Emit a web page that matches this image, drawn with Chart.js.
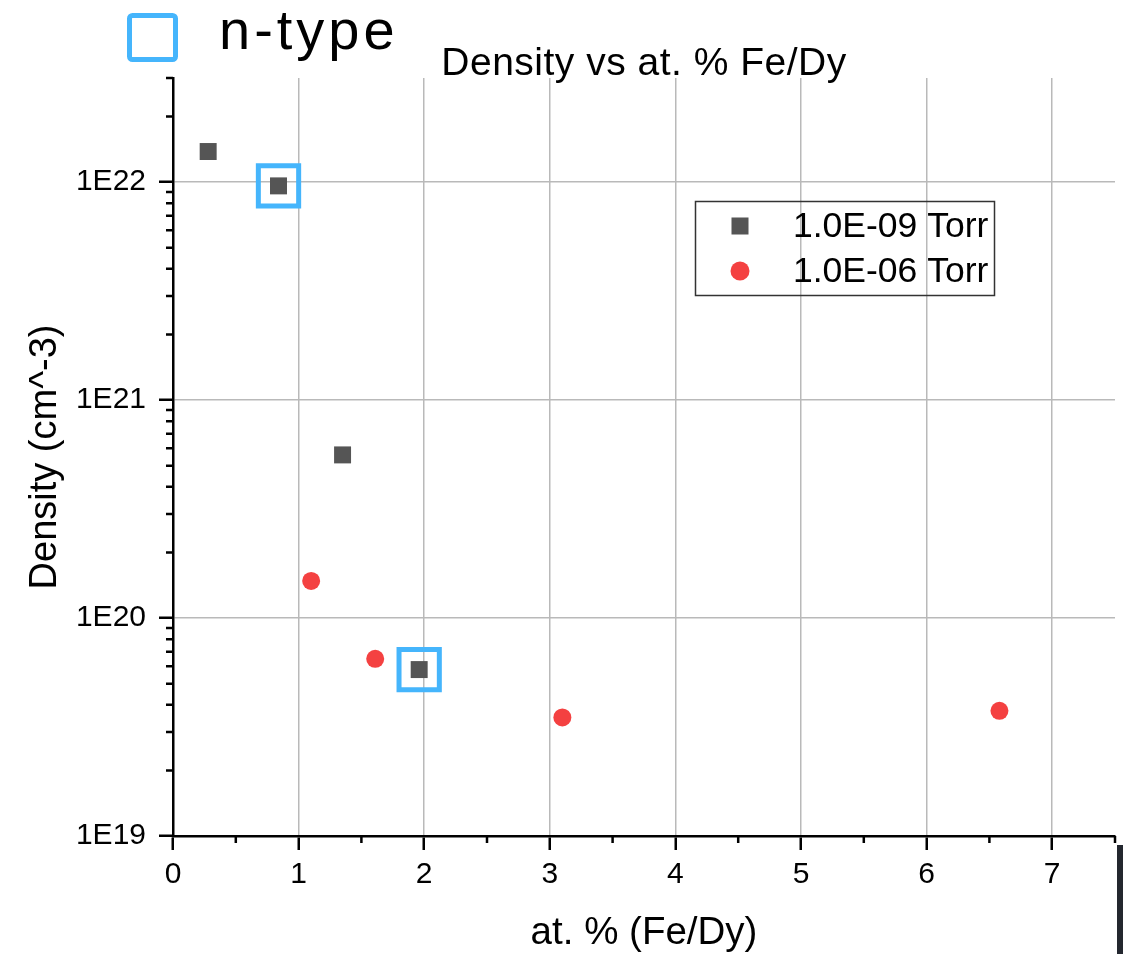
<!DOCTYPE html>
<html>
<head>
<meta charset="utf-8">
<script src="https://cdn.jsdelivr.net/npm/chart.js@4"></script>
<style>
  body { margin: 0; background: #fff; }
  #wrap { position: relative; width: 1123px; height: 954px; }
  #edge { position: absolute; left: 1117px; top: 845px; width: 6px; height: 109px; background: #23272f; }
</style>
</head>
<body>
<div id="wrap">
  <canvas id="density-chart"></canvas>
  <div id="edge"></div>
</div>
<script>
// at. % Fe/Dy and carrier density for the two base pressures
const at_uhv = [0.28, 0.84, 1.35, 1.96];
const dens_uhv = [1.38e22, 9.6e21, 5.6e20, 5.8e19];
const at_hv = [1.10, 1.61, 3.10, 6.58];
const dens_hv = [1.48e20, 6.5e19, 3.5e19, 3.75e19];
// which 1.0E-09 Torr samples came out n-type
const ntype_idx = [1, 3];

const series_names = ['1.0E-09 Torr', '1.0E-06 Torr', 'n-type'];
const x_ticks = [0, 1, 2, 3, 4, 5, 6, 7];
const y_ticks = [1e19, 1e20, 1e21, 1e22];

const FONT = '"Liberation Sans", Arial, sans-serif';
const GREY = '#555555';
const RED = '#f44141';
const BLUE = '#45b5fc';

function pts(xs, ys) {
    return xs.map((x, i) => ({x: x, y: ys[i]}));
}

let ctx = document.getElementById('density-chart');

// minor ticks, title, legends
const extras = {
    id: 'extras',
    afterDraw(chart) {
        const c = chart.ctx;
        const xs = chart.scales.x;
        const ys = chart.scales.y;
        const area = chart.chartArea;
        c.save();
        c.strokeStyle = '#000';
        c.lineWidth = 2.5;
        c.beginPath();
        for (let d = 19; d <= 22; d++) {
            for (let m = 2; m <= 9; m++) {
                let v = m * Math.pow(10, d);
                if (v > ys.max * 1.0001) continue;
                let py = ys.getPixelForValue(v);
                c.moveTo(area.left - 7, py);
                c.lineTo(area.left, py);
            }
        }
        for (let v = 0.5; v <= xs.max + 0.001; v += 1) {
            let px = xs.getPixelForValue(v);
            c.moveTo(px, area.bottom);
            c.lineTo(px, area.bottom + 7);
        }
        c.stroke();

        c.fillStyle = '#000';
        c.font = '39px ' + FONT;
        c.letterSpacing = '0.5px';
        c.textAlign = 'center';
        c.textBaseline = 'alphabetic';
        c.fillText('Density vs at. % Fe/Dy', (area.left + area.right) / 2, 75);
        c.letterSpacing = '0px';

        // series legend
        c.strokeStyle = '#333';
        c.lineWidth = 1.5;
        c.strokeRect(695.5, 201.5, 299, 94);
        c.fillStyle = GREY;
        c.fillRect(740 - 8.5, 226 - 8.5, 17, 17);
        c.fillStyle = RED;
        c.beginPath();
        c.arc(740, 271, 9.5, 0, Math.PI * 2);
        c.fill();
        c.fillStyle = '#000';
        c.font = '35.5px ' + FONT;
        c.textAlign = 'left';
        c.textBaseline = 'middle';
        c.fillText(series_names[0], 793, 227);
        c.fillText(series_names[1], 793, 272);

        // n-type key
        c.strokeStyle = BLUE;
        c.lineWidth = 5;
        c.beginPath();
        c.roundRect(129.5, 15.5, 46, 44, 3);
        c.stroke();
        c.fillStyle = '#000';
        c.font = '56px ' + FONT;
        c.letterSpacing = '4px';
        c.textBaseline = 'alphabetic';
        c.fillText(series_names[2], 219, 49);
        c.restore();
    }
};

let data = {
    datasets: [{
        label: series_names[0],
        data: pts(at_uhv, dens_uhv),
        pointStyle: 'rect',
        pointRadius: 12,
        backgroundColor: GREY,
        borderWidth: 0
    },
    {
        label: series_names[1],
        data: pts(at_hv, dens_hv),
        pointStyle: 'circle',
        pointRadius: 9,
        backgroundColor: RED,
        borderWidth: 0
    },
    {
        label: series_names[2],
        data: ntype_idx.map(i => ({x: at_uhv[i], y: dens_uhv[i]})),
        pointStyle: 'rect',
        pointRadius: 28.5,
        backgroundColor: 'rgba(0,0,0,0)',
        borderColor: BLUE,
        borderWidth: 5
    }]
};

let options = {
    responsive: true,
    maintainAspectRatio: false,
    animation: false,
    events: [],
    layout: { autoPadding: false, padding: { top: 78, right: 8, left: 0, bottom: 0 } },
    plugins: {
        legend: { display: false },
        title: { display: false },
        tooltip: { enabled: false }
    },
    scales: {
        x: {
            type: 'linear',
            min: 0,
            max: 7.5,
            afterBuildTicks: s => { s.ticks = x_ticks.map(v => ({value: v})) },
            afterFit: s => { s.height = 118; s.paddingLeft = 0; s.paddingRight = 0 },
            ticks: { color: '#000', font: { family: FONT, size: 30 }, padding: 7 },
            grid: { color: '#b9b9b9', lineWidth: 1.5, tickLength: 14, tickColor: '#000', tickWidth: 2.5 },
            border: { color: '#000', width: 2.5 },
            title: {
                display: true,
                text: 'at. % (Fe/Dy)',
                color: '#000',
                font: { family: FONT, size: 38.5, lineHeight: 1 },
                padding: { top: 0, bottom: 1 }
            }
        },
        y: {
            type: 'logarithmic',
            min: 1e19,
            max: 3e22,
            afterBuildTicks: s => { s.ticks = y_ticks.map(v => ({value: v})) },
            afterFit: s => { s.width = 173; s.paddingTop = 0; s.paddingBottom = 0 },
            ticks: {
                color: '#000',
                font: { family: FONT, size: 30 },
                padding: 13,
                callback: v => '1E' + Math.round(Math.log10(v))
            },
            grid: { color: '#b9b9b9', lineWidth: 1.5, tickLength: 14, tickColor: '#000', tickWidth: 2.5 },
            border: { color: '#000', width: 2.5 },
            title: {
                display: true,
                text: 'Density (cm^-3)',
                color: '#000',
                font: { family: FONT, size: 38, lineHeight: 1 },
                padding: { top: 27, bottom: 0 }
            }
        }
    }
};

let my_chart = new Chart(ctx, {
    type: 'scatter',
    data: data,
    options: options,
    plugins: [extras]
});
</script>
</body>
</html>
